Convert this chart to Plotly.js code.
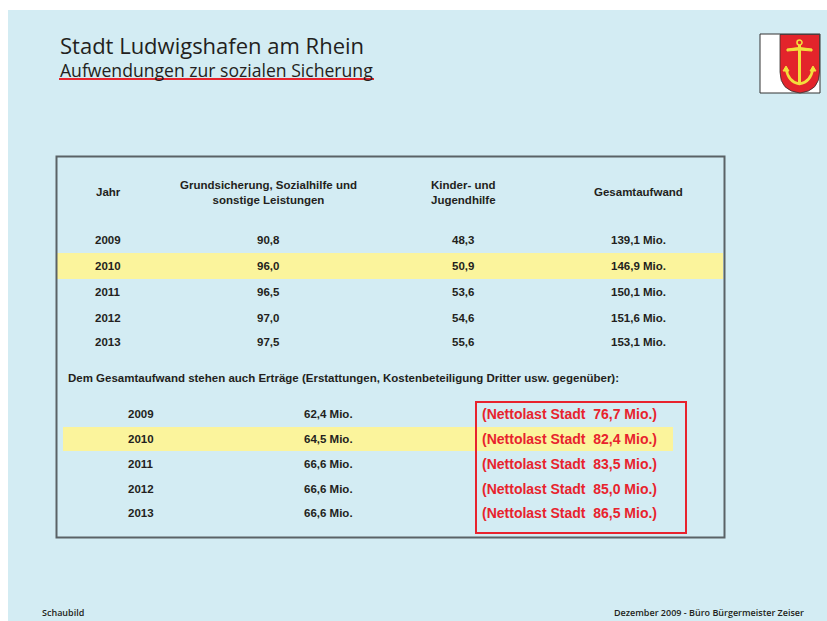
<!DOCTYPE html>
<html><head><meta charset="utf-8">
<script src="https://cdn.plot.ly/plotly-3.0.1.min.js"></script>
<style>html,body{margin:0;padding:0;background:#fff}</style>
</head><body><div id="chart" style="width:827px;height:621px"></div>
<script>
// ---- data ----
const years = ['2009','2010','2011','2012','2013'];
const grundsicherung = [90.8, 96.0, 96.5, 97.0, 97.5];
const kinderJugend = [48.3, 50.9, 53.6, 54.6, 55.6];
const gesamtaufwand = [139.1, 146.9, 150.1, 151.6, 153.1];
const ertraege = [62.4, 64.5, 66.6, 66.6, 66.6];
const nettolast = [76.7, 82.4, 83.5, 85.0, 86.5];
const highlightYear = '2010';
const headers = ['Jahr', 'Grundsicherung, Sozialhilfe und<br>sonstige Leistungen', 'Kinder- und<br>Jugendhilfe', 'Gesamtaufwand'];
const titleText = 'Stadt Ludwigshafen am Rhein';
const subtitleText = 'Aufwendungen zur sozialen Sicherung';
const noteText = 'Dem Gesamtaufwand stehen auch Erträge (Erstattungen, Kostenbeteiligung Dritter usw. gegenüber):';
const footerLeft = 'Schaubild';
const footerRight = 'Dezember 2009 - Büro Bürgermeister Zeiser';

// ---- layout helpers ----
const fmt = v => v.toFixed(1).replace('.', ',');
const FONT = '"Liberation Sans Narrow", "Arial Narrow", "Liberation Sans", Arial, sans-serif';
const TITLEFONT = '"Open Sans", "Noto Sans", sans-serif';
const dark = '#231f20';
const red = '#e8232d';
const yellow = '#fbf49c';
const bg = '#d3ecf3';

const colX = [108, 268, 463, 638];
const rowY1 = [240, 266, 292, 318, 342];
const rowY2 = [414, 439, 464, 489, 513];
const colX2 = [141, 328, 569];

const ann = [];
function T(x, y, text, opts) {
  ann.push(Object.assign({x: x, y: y, xref: 'x', yref: 'y', text: text, showarrow: false,
    xanchor: 'center', yanchor: 'middle',
    font: {family: FONT, size: 11.5, color: dark, weight: 'bold'}}, opts || {}));
}

// titles
T(58, 45, titleText, {xanchor: 'left', font: {family: TITLEFONT, size: 22, color: dark}});
T(58, 70, subtitleText, {xanchor: 'left', font: {family: TITLEFONT, size: 17.6, color: dark}});

// header row
headers.forEach((h, i) => T(colX[i], 192, h, {font: {family: FONT, size: 11.5, color: dark, weight: 'bold'}}));

// upper table
years.forEach((y, i) => {
  T(colX[0], rowY1[i], y);
  T(colX[1], rowY1[i], fmt(grundsicherung[i]));
  T(colX[2], rowY1[i], fmt(kinderJugend[i]));
  T(colX[3], rowY1[i], fmt(gesamtaufwand[i]) + ' Mio.');
});

// note
T(66, 378, noteText, {xanchor: 'left', font: {family: FONT, size: 11.5, color: dark, weight: 'bold'}});

// lower table
years.forEach((y, i) => {
  T(colX2[0], rowY2[i], y);
  T(colX2[1], rowY2[i], fmt(ertraege[i]) + ' Mio.');
  T(colX2[2], rowY2[i], '(Nettolast Stadt  ' + fmt(nettolast[i]) + ' Mio.)',
    {font: {family: FONT, size: 14, color: red, weight: 'bold'}});
});

// footer
T(40, 612, footerLeft, {xanchor: 'left', font: {family: TITLEFONT, size: 9, color: dark, weight: 600}});
T(806, 612, footerRight, {xanchor: 'right', font: {family: TITLEFONT, size: 9, color: dark, weight: 600}});

// shapes
const shapes = [];
shapes.push({type: 'rect', xref: 'x', yref: 'y', x0: 8, x1: 828, y0: 10, y1: 622, fillcolor: bg, line: {width: 0}, layer: 'below'});
// highlight rows
const hi = years.indexOf(highlightYear);
shapes.push({type: 'rect', xref: 'x', yref: 'y', x0: 57, x1: 723, y0: rowY1[hi] - 13, y1: rowY1[hi] + 13, fillcolor: yellow, line: {width: 0}, layer: 'below'});
shapes.push({type: 'rect', xref: 'x', yref: 'y', x0: 63, x1: 673, y0: rowY2[hi] - 12, y1: rowY2[hi] + 12, fillcolor: yellow, line: {width: 0}, layer: 'below'});
// table frame
shapes.push({type: 'rect', xref: 'x', yref: 'y', x0: 56.5, x1: 724.5, y0: 156.5, y1: 537.5, line: {color: '#5a6266', width: 2}, fillcolor: 'rgba(0,0,0,0)'});
// red box
shapes.push({type: 'rect', xref: 'x', yref: 'y', x0: 476, x1: 686, y0: 402, y1: 533, line: {color: red, width: 2}, fillcolor: 'rgba(0,0,0,0)'});
// subtitle underline
shapes.push({type: 'line', xref: 'x', yref: 'y', x0: 59, x1: 374, y0: 79, y1: 79, line: {color: red, width: 2}});
// logo
shapes.push({type: 'rect', xref: 'x', yref: 'y', x0: 760, x1: 820, y0: 34, y1: 93, fillcolor: '#ffffff', line: {color: '#333', width: 1}});
shapes.push({type: 'path', xref: 'x', yref: 'y', path: 'M780,34.5 L819.5,34.5 L819.5,72 Q819.5,91 800,93 Q780,91 780,72 Z', fillcolor: '#e3242b', line: {color: '#333', width: 0.8}});
const gold = '#f3df3c';
shapes.push({type: 'circle', xref: 'x', yref: 'y', x0: 797, x1: 802, y0: 40, y1: 45, line: {color: gold, width: 1.6}, fillcolor: 'rgba(0,0,0,0)'});
shapes.push({type: 'path', xref: 'x', yref: 'y', path: 'M787,49 Q799,46 812,49 L812,51 Q799,49 787,51 Z', fillcolor: gold, line: {color: gold, width: 1}});
shapes.push({type: 'line', xref: 'x', yref: 'y', x0: 799.5, x1: 799.5, y0: 45, y1: 83, line: {color: gold, width: 3}});
shapes.push({type: 'path', xref: 'x', yref: 'y', path: 'M786,68 Q788,82 799.5,84 Q811,82 813,68', line: {color: gold, width: 2.6}});
shapes.push({type: 'path', xref: 'x', yref: 'y', path: 'M783,71 L786,66 L789,71 Z', fillcolor: gold, line: {color: gold, width: 1}});
shapes.push({type: 'path', xref: 'x', yref: 'y', path: 'M810,71 L813,66 L816,71 Z', fillcolor: gold, line: {color: gold, width: 1}});

const layout = {
  width: 827, height: 621,
  margin: {l: 0, r: 0, t: 0, b: 0},
  paper_bgcolor: '#ffffff', plot_bgcolor: 'rgba(0,0,0,0)',
  showlegend: false,
  xaxis: {range: [0, 827], visible: false, fixedrange: true},
  yaxis: {range: [621, 0], visible: false, fixedrange: true},
  shapes: shapes,
  annotations: ann
};
Plotly.newPlot('chart', [{x: [], y: [], type: 'scatter', mode: 'markers'}], layout, {displayModeBar: false, staticPlot: true});
</script></body></html>
